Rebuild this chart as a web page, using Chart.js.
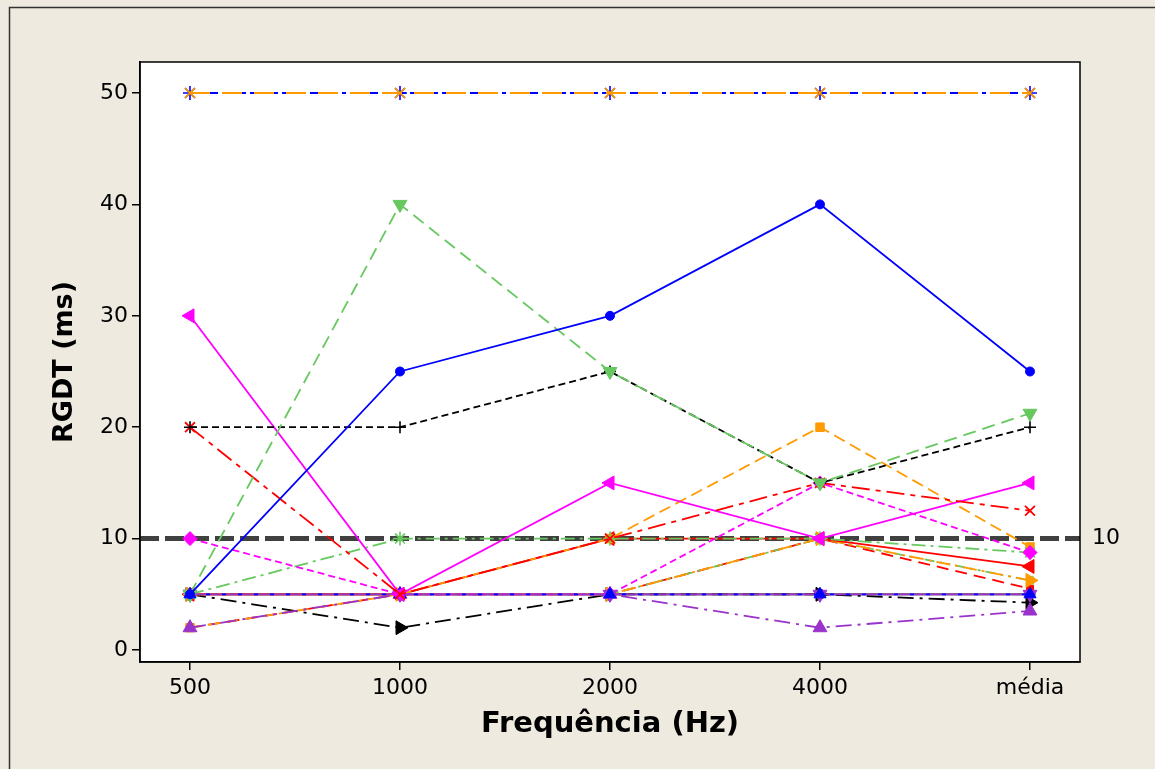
<!DOCTYPE html>
<html>
<head>
<meta charset="utf-8">
<script src="https://cdn.jsdelivr.net/npm/chart.js@4/dist/chart.umd.min.js"></script>
<style>
  html, body { margin: 0; padding: 0; background: #EEEAE0; }
  #wrap { width: 1155px; height: 769px; }
  canvas { display: block; }
</style>
</head>
<body>
<div id="wrap"><canvas id="c" width="1155" height="769"></canvas></div>
<script>
// Frequencies (plus the average column) and the y tick values
const categories = ['500', '1000', '2000', '4000', 'média'];
const yTicks = [0, 10, 20, 30, 40, 50];
const referenceValue = 10;

// RGDT thresholds (ms) per subject: 500, 1000, 2000, 4000, média
const orange50   = [50, 50, 50, 50, 50];
const blue50     = [50, 50, 50, 50, 50];
const blueCircle = [5, 25, 30, 40, 25];
const greenDown  = [5, 40, 25, 15, 21.25];
const blackPlus  = [20, 20, 25, 15, 20];
const redCross   = [20, 5, 10, 15, 12.5];
const magentaTri = [30, 5, 15, 10, 15];
const magentaDia = [10, 5, 5, 15, 8.75];
const greenStar  = [5, 10, 10, 10, 8.75];
const orangeSq   = [2, 5, 10, 20, 9.25];
const redTri     = [5, 5, 10, 10, 7.5];
const orangeTri  = [5, 5, 5, 10, 6.25];
const greenSq    = [5, 5, 5, 10, 6.25];
const redSq      = [2, 5, 5, 10, 5.5];
const blackTri   = [5, 2, 5, 5, 4.25];
const purpleUp   = [2, 5, 5, 2, 3.5];
const blueUp     = [5, 5, 5, 5, 5];
const purpleDown = [5, 5, 5, 5, 5];
const blackDot   = [5, 5, 5, 5, 5];

const BLUE = '#0000FF', GREEN = '#66C85E', BLACK = '#000000', RED = '#FF0000',
      MAGENTA = '#FF00FF', ORANGE = '#FF9A00', PURPLE = '#9933CC';

function series(values, color, dash, style, radius, rotation, borderW) {
  return {
    data: values.map((v, i) => ({ x: i, y: v })),
    borderColor: color,
    backgroundColor: color,
    borderWidth: 1.8,
    borderDash: dash,
    pointStyle: style,
    pointRadius: radius,
    pointHoverRadius: radius,
    pointRotation: rotation || 0,
    pointBackgroundColor: color,
    pointBorderColor: color,
    pointBorderWidth: borderW || 1,
    tension: 0,
    fill: false
  };
}

// Earlier entries are painted on top of later ones
const datasets = [
  series(orange50,   ORANGE,  [20, 12],          'crossRot', 7, 0, 1.8),
  series(blue50,     BLUE,    [8, 4, 4, 4],      'star',     7, 0, 1.6),
  series(blueCircle, BLUE,    [],                'circle',   4.5),
  series(greenDown,  GREEN,   [13, 7],           'triangle', 8, 180),
  series(blackPlus,  BLACK,   [7, 4],            'cross',    6, 0, 1.6),
  series(redCross,   RED,     [18, 6, 5, 6],     'crossRot', 7, 0, 1.8),
  series(magentaTri, MAGENTA, [],                'triangle', 8, -90),
  series(blueUp,     BLUE,    [4, 12],           'triangle', 7),
  series(purpleDown, PURPLE,  [],                'triangle', 8, 180),
  series(magentaDia, MAGENTA, [7, 4],            'rectRot',  7),
  series(greenStar,  GREEN,   [14, 5, 3, 5],     'star',     7, 0, 1.6),
  series(purpleUp,   PURPLE,  [16, 6, 3, 6],     'triangle', 8),
  series(orangeSq,   ORANGE,  [12, 6],           'rect',     6),
  series(redTri,     RED,     [],                'triangle', 8, -90),
  series(orangeTri,  ORANGE,  [14, 5, 3, 5],     'triangle', 8, 90),
  series(greenSq,    GREEN,   [10, 5, 3, 5, 3, 5], 'rect',   5),
  series(redSq,      RED,     [12, 7],           'rect',     5),
  series(blackTri,   BLACK,   [16, 6, 3, 6],     'triangle', 8, 90),
  series(blackDot,   BLACK,   [],                'circle',   5)
];

const FONT = "'DejaVu Sans', Verdana, sans-serif";

// Page background, white plot area, outer frame
const backdrop = {
  id: 'backdrop',
  beforeDraw(chart) {
    const { ctx, chartArea: a } = chart;
    ctx.save();
    ctx.fillStyle = '#EEEAE0';
    ctx.fillRect(0, 0, chart.width, chart.height);
    ctx.strokeStyle = '#333333';
    ctx.lineWidth = 1.5;
    ctx.strokeRect(9.5, 7.5, chart.width + 10, chart.height + 10);
    ctx.fillStyle = '#FFFFFF';
    ctx.fillRect(a.left, a.top, a.right - a.left, a.bottom - a.top);
    ctx.restore();
  }
};

// Dashed reference line at 10 ms with its label at the right
const refLine = {
  id: 'refLine',
  beforeDatasetsDraw(chart) {
    const { ctx, chartArea: a, scales: { y } } = chart;
    const py = y.getPixelForValue(referenceValue);
    ctx.save();
    ctx.strokeStyle = '#404040';
    ctx.lineWidth = 5;
    ctx.setLineDash([19, 6]);
    ctx.beginPath();
    ctx.moveTo(a.left, py);
    ctx.lineTo(a.right, py);
    ctx.stroke();
    ctx.restore();
  },
  afterDraw(chart) {
    const { ctx, chartArea: a, scales: { y } } = chart;
    const py = y.getPixelForValue(referenceValue);
    ctx.save();
    ctx.fillStyle = '#000';
    ctx.font = '22px ' + FONT;
    ctx.textAlign = 'left';
    ctx.textBaseline = 'middle';
    ctx.fillText(String(referenceValue), a.right + 12, py);
    ctx.strokeStyle = '#000';
    ctx.lineWidth = 1.5;
    ctx.strokeRect(a.left, a.top, a.right - a.left, a.bottom - a.top);
    ctx.restore();
  }
};

new Chart(document.getElementById('c'), {
  type: 'line',
  data: { datasets },
  options: {
    responsive: false,
    animation: false,
    events: [],
    layout: { padding: { left: 0, top: 62, right: 75, bottom: 0 } },
    plugins: { legend: { display: false }, tooltip: { enabled: false } },
    scales: {
      x: {
        type: 'linear',
        min: -50 / 210,
        max: 4 + 50 / 210,
        afterBuildTicks(s) { s.ticks = categories.map((_, i) => ({ value: i })); },
        afterFit(s) { s.height = 107; },
        ticks: {
          color: '#000',
          font: { family: FONT, size: 22 },
          padding: 5,
          maxRotation: 0,
          autoSkip: false,
          callback: (v) => categories[v]
        },
        grid: { drawOnChartArea: false, drawTicks: true, tickLength: 8, color: '#000', lineWidth: 1.5 },
        border: { display: true, color: '#000', width: 1.5 },
        title: {
          display: true,
          text: 'Frequência (Hz)',
          color: '#000',
          font: { family: FONT, size: 29, weight: 'bold' },
          padding: { top: 0, bottom: 27 }
        }
      },
      y: {
        type: 'linear',
        min: -12 / 11.14,
        max: 50 + 31 / 11.14,
        afterBuildTicks(s) { s.ticks = yTicks.map(v => ({ value: v })); },
        afterFit(s) { s.width = 140; },
        ticks: {
          color: '#000',
          font: { family: FONT, size: 22 },
          padding: 4
        },
        grid: { drawOnChartArea: false, drawTicks: true, tickLength: 8, color: '#000', lineWidth: 1.5 },
        border: { display: true, color: '#000', width: 1.5 },
        title: {
          display: true,
          text: 'RGDT (ms)',
          color: '#000',
          font: { family: FONT, size: 27, weight: 'bold' },
          padding: { top: 49, bottom: 0 }
        }
      }
    }
  },
  plugins: [backdrop, refLine]
});
</script>
</body>
</html>
